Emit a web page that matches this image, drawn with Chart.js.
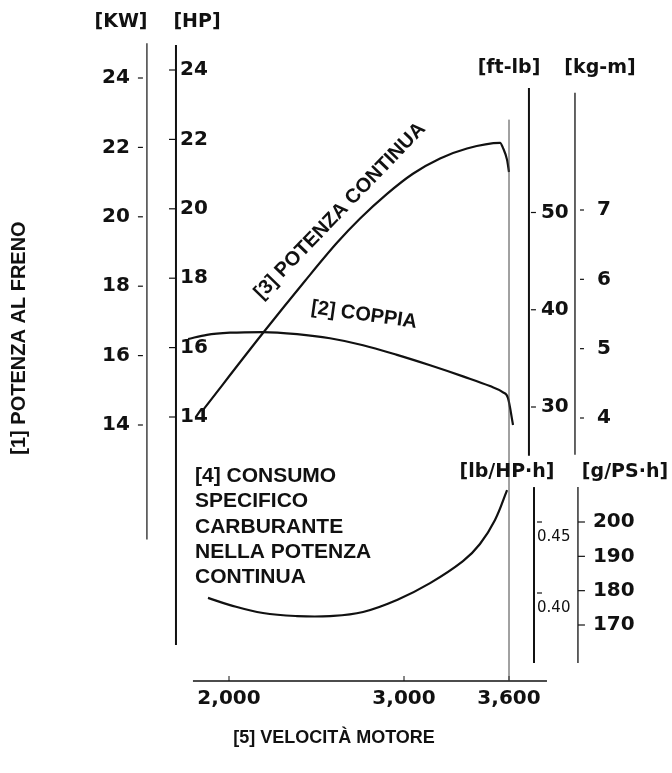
<!DOCTYPE html>
<html>
<head>
<meta charset="utf-8">
<script src="https://cdn.jsdelivr.net/npm/chart.js@4.4.1/dist/chart.umd.min.js"></script>
<style>
  html, body { margin: 0; padding: 0; background: #fff; }
  #wrap { width: 672px; height: 773px; }
</style>
</head>
<body>
<div id="wrap"><canvas id="mainchart" width="672" height="773"></canvas></div>
<script>
// values
const rpmPower = [1851, 2194, 2434, 2617, 2749, 2903, 3051, 3206, 3360, 3549, 3566, 3589, 3600];
const kwPower = [14.43, 16.65, 18.15, 19.25, 19.95, 20.66, 21.24, 21.68, 21.97, 22.13, 21.98, 21.64, 21.29];

const rpmTorque = [1766, 1874, 2006, 2194, 2389, 2577, 2766, 2960, 3149, 3337, 3491, 3566, 3594, 3623];
const kgmTorque = [5.14, 5.20, 5.23, 5.24, 5.21, 5.15, 5.05, 4.91, 4.76, 4.60, 4.46, 4.37, 4.29, 3.90];

const rpmFuel = [1880, 2006, 2194, 2389, 2577, 2766, 2960, 3149, 3337, 3434, 3520, 3589];
const gpsFuel = [177.9, 175.8, 173.5, 172.6, 172.6, 173.8, 177.3, 182.2, 188.6, 193.6, 200.6, 209.3];

const kwTicks = [14, 16, 18, 20, 22, 24];
const hpTicks = [14, 16, 18, 20, 22, 24];
const ftlbTicks = [30, 40, 50];
const kgmTicks = [4, 5, 6, 7];
const lbTicks = [0.40, 0.45];
const gpsTicks = [170, 180, 190, 200];
const xTicks = [2000, 3000, 3600];
const xTickLabels = ['2,000', '3,000', '3,600'];

const AREA = {top: 10, bottom: 681, left: 0, right: 672};

/* min/max of a linear scale so that value a sits at pixel pa and b at pb */
function fit(a, pa, b, pb, lo, hi) {
  const k = (b - a) / (pb - pa);
  return {min: a + (hi - pa) * k, max: a + (lo - pa) * k};
}

const NUM = 'bold 20px "DejaVu Sans"';
const UNIT = 'bold 19px "DejaVu Sans"';

const axes = [
  {id: 'kw', at: 1531, from: 25.0, to: 10.7, lw: 1.2, ticks: kwTicks, tk: [-9, -4], lx: -17, ly: 0, align: 'right', font: NUM},
  {id: 'hp', at: 1697, from: 24.72, to: 7.43, lw: 2, ticks: hpTicks, tk: [-7, 0], lx: 4, ly: 0, align: 'left', font: NUM},
  {id: 'ftlb', at: 3714, from: 62.8, to: 25.0, lw: 2, ticks: ftlbTicks, tk: [2, 7], lx: 12, ly: 0, align: 'left', font: NUM},
  {id: 'kgm', at: 3977, from: 8.69, to: 3.47, lw: 1.3, ticks: kgmTicks, tk: [5, 9], lx: 22, ly: 0, align: 'left', font: NUM},
  {id: 'lb', at: 3743, from: 0.4746, to: 0.3507, lw: 2, ticks: lbTicks, tk: [3, 8], lx: 3, ly: 15, align: 'left', font: '15px "DejaVu Sans"', fmt: v => v.toFixed(2)},
  {id: 'gps', at: 3994, from: 210.2, to: 158.9, lw: 1.3, ticks: gpsTicks, tk: [0, 7], lx: 15, ly: 0, align: 'left', font: NUM}
];

const units = [
  {text: '[KW]', x: 121, y: 22},
  {text: '[HP]', x: 197, y: 22},
  {text: '[ft-lb]', x: 509, y: 68},
  {text: '[kg-m]', x: 600, y: 68},
  {text: '[lb/HP\u00b7h]', x: 507, y: 472},
  {text: '[g/PS\u00b7h]', x: 625, y: 472}
];

const fuelNote = ['[4] CONSUMO', 'SPECIFICO', 'CARBURANTE', 'NELLA POTENZA', 'CONTINUA'];

const decor = {
  id: 'decor',
  afterDraw(chart) {
    const c = chart.ctx;
    const xs = chart.scales.x;
    c.save();
    c.strokeStyle = '#111';
    c.fillStyle = '#111';
    c.textBaseline = 'middle';

    axes.forEach(a => {
      const sc = chart.scales[a.id];
      const px = xs.getPixelForValue(a.at);
      c.lineWidth = a.lw;
      c.beginPath();
      c.moveTo(px, sc.getPixelForValue(a.from));
      c.lineTo(px, sc.getPixelForValue(a.to));
      c.stroke();
      c.font = a.font;
      c.textAlign = a.align;
      a.ticks.forEach(t => {
        const py = sc.getPixelForValue(t);
        c.lineWidth = 1.2;
        c.beginPath();
        c.moveTo(px + a.tk[0], py);
        c.lineTo(px + a.tk[1], py);
        c.stroke();
        c.fillText(a.fmt ? a.fmt(t) : String(t), px + a.lx, py + a.ly);
      });
    });

    // speed axis
    const yb = chart.chartArea.bottom;
    c.lineWidth = 1.5;
    c.beginPath();
    c.moveTo(xs.getPixelForValue(1794), yb);
    c.lineTo(xs.getPixelForValue(3817), yb);
    c.stroke();
    c.font = NUM;
    c.textAlign = 'center';
    xTicks.forEach((t, i) => {
      const px = xs.getPixelForValue(t);
      c.lineWidth = 1;
      c.beginPath();
      c.moveTo(px, yb);
      c.lineTo(px, yb - 5);
      c.stroke();
      c.fillText(xTickLabels[i], px, yb + 18);
    });

    // rated speed line
    const x36 = xs.getPixelForValue(3600);
    c.lineWidth = 1;
    c.strokeStyle = '#444';
    c.beginPath();
    c.moveTo(x36, chart.scales.kw.getPixelForValue(22.8));
    c.lineTo(x36, yb);
    c.stroke();

    c.font = UNIT;
    units.forEach(u => c.fillText(u.text, u.x, u.y));

    c.font = 'bold 21px "Liberation Sans"';
    c.textAlign = 'left';
    c.textBaseline = 'alphabetic';
    fuelNote.forEach((s, i) => c.fillText(s, 195, 482 + i * 25.3));

    c.textBaseline = 'middle';
    c.textAlign = 'center';
    c.font = 'bold 18px "Liberation Sans"';
    c.fillText('[5] VELOCIT\u00c0 MOTORE', 334, 738);

    c.font = 'bold 20px "Liberation Sans"';
    c.save();
    c.translate(19, 338);
    c.rotate(-Math.PI / 2);
    c.fillText('[1] POTENZA AL FRENO', 0, 0);
    c.restore();

    c.save();
    c.translate(340, 211);
    c.rotate(-46 * Math.PI / 180);
    c.fillText('[3] POTENZA CONTINUA', 0, 0);
    c.restore();

    c.save();
    c.translate(364, 315);
    c.rotate(8 * Math.PI / 180);
    c.fillText('[2] COPPIA', 0, 0);
    c.restore();

    c.restore();
  }
};

function series(xs, ys, axis, smooth) {
  const ds = {
    data: xs.map((x, i) => ({x: x, y: ys[i]})),
    yAxisID: axis,
    borderColor: '#111',
    borderWidth: 2.2,
    pointRadius: 0,
    fill: false,
    clip: false
  };
  if (smooth) ds.tension = 0.4;
  else ds.cubicInterpolationMode = 'monotone';
  return ds;
}

function yScale(range) {
  return {type: 'linear', axis: 'y', position: 'left', display: false, min: range.min, max: range.max};
}

const L = AREA.left, R = AREA.right, T = AREA.top, B = AREA.bottom;
const xr = fit(2000, 229, 3000, 404, R, L);

const ctx = document.getElementById('mainchart');
const chart = new Chart(ctx, {
  type: 'line',
  data: {
    datasets: [
      series(rpmPower, kwPower, 'kw'),
      series(rpmTorque, kgmTorque, 'kgm'),
      series(rpmFuel, gpsFuel, 'gps', true)
    ]
  },
  options: {
    responsive: false,
    animation: false,
    events: [],
    layout: {padding: {top: T, bottom: 773 - B, left: L, right: 672 - R}},
    plugins: {legend: false, tooltip: {enabled: false}, title: {display: false}},
    scales: {
      x: {type: 'linear', axis: 'x', position: 'bottom', display: false, min: xr.min, max: xr.max},
      kw: yScale(fit(24, 78, 14, 425, T, B)),
      hp: yScale(fit(24, 70, 14, 417, T, B)),
      ftlb: yScale(fit(50, 212.5, 30, 407, T, B)),
      kgm: yScale(fit(7, 210, 4, 418, T, B)),
      lb: yScale(fit(0.45, 522, 0.40, 593, T, B)),
      gps: yScale(fit(200, 522, 170, 625, T, B))
    }
  },
  plugins: [decor]
});
</script>
</body>
</html>
